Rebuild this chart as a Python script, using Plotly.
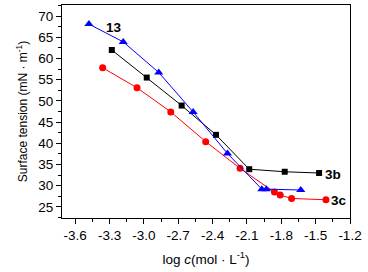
import plotly.graph_objects as go

x13 = [-3.48, -3.18, -2.87, -2.57, -2.27, -1.97, -1.93, -1.63]
y13 = [68.1, 63.9, 56.7, 47.4, 37.6, 29.2, 29.2, 29.0]
x3b = [-3.28, -2.975, -2.67, -2.37, -2.08, -1.77, -1.47]
y3b = [62.0, 55.5, 48.9, 42.0, 33.9, 33.3, 33.0]
x3c = [-3.36, -3.06, -2.765, -2.46, -2.16, -1.86, -1.81, -1.71, -1.41]
y3c = [57.8, 53.1, 47.4, 40.4, 34.1, 28.5, 27.8, 27.0, 26.7]
xticks = [-3.6, -3.3, -3.0, -2.7, -2.4, -2.1, -1.8, -1.5, -1.2]
yticks = [25, 30, 35, 40, 45, 50, 55, 60, 65, 70]

FONT = "Liberation Sans, Arial"

fig = go.Figure()
fig.add_trace(go.Scatter(x=x3c, y=y3c, mode="lines+markers",
                         line=dict(color="#ff0000", width=1),
                         marker=dict(symbol="circle", size=7, color="#ff0000")))
fig.add_trace(go.Scatter(x=x3b, y=y3b, mode="lines+markers",
                         line=dict(color="#000000", width=1),
                         marker=dict(symbol="square", size=6, color="#000000")))
fig.add_trace(go.Scatter(x=x13, y=y13, mode="lines+markers",
                         line=dict(color="#0000ff", width=1),
                         marker=dict(symbol="triangle-up", size=8, color="#0000ff")))

for txt, xx, yy in [("13", -3.26, 67.3), ("3b", -1.35, 32.6), ("3c", -1.30, 26.5)]:
    fig.add_annotation(x=xx, y=yy, text="<b>" + txt + "</b>", showarrow=False,
                       font=dict(size=13.5, color="black", family=FONT))

fig.update_xaxes(range=[-3.715, -1.2], tickvals=xticks,
                 ticktext=[f"{v:.1f}" for v in xticks],
                 ticks="outside", ticklen=5, tickcolor="black",
                 showline=True, linecolor="black", linewidth=1, mirror=True,
                 showgrid=False, zeroline=False,
                 minor=dict(dtick=0.15, tick0=-3.6, ticks="outside", ticklen=3, tickcolor="black"),
                 title=dict(text="log <i>c</i>(mol · L<sup>-1</sup>)", standoff=12,
                            font=dict(size=13.5, color="black")),
                 tickfont=dict(size=13.5, color="black"))
fig.update_yaxes(range=[22.4, 72.6], tickvals=yticks,
                 ticks="outside", ticklen=5, tickcolor="black",
                 showline=True, linecolor="black", linewidth=1, mirror=True,
                 showgrid=False, zeroline=False,
                 minor=dict(dtick=2.5, tick0=25, ticks="outside", ticklen=3, tickcolor="black"),
                 title=dict(text="Surface tension (mN · m<sup>-1</sup>)", standoff=8,
                            font=dict(size=12, color="black")),
                 tickfont=dict(size=13.5, color="black"))
fig.update_layout(width=368, height=272, margin=dict(l=62, r=18, t=5, b=54, autoexpand=False),
                  plot_bgcolor="white", paper_bgcolor="white", showlegend=False,
                  font=dict(family=FONT, color="black"))
fig.write_html("out.html", config={"displayModeBar": False},
               post_script="document.body.style.margin='0';")
